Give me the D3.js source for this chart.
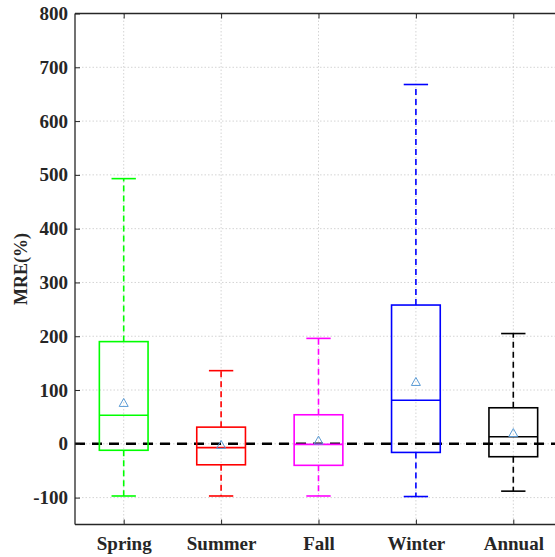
<!DOCTYPE html>
<html><head><meta charset="utf-8">
<script src="https://cdn.jsdelivr.net/npm/d3@7"></script>
<style>body{margin:0;background:#fff;}svg{display:block;}</style>
</head><body>
<svg id="chart" width="555" height="557"></svg>
<script>
const categories = ["Spring","Summer","Fall","Winter","Annual"];
const colors = ["#00ff00","#ff0000","#ff00ff","#0000ff","#000000"];
const whiskerLow = [-97,-97,-97,-98,-88];
const q1 = [-12,-39,-40,-16,-24];
const medians = [53,-7,-1,81,13];
const q3 = [190,31,54,258,67];
const whiskerHigh = [493,136,196,668,205];
const means = [76,-2,6,115,20];
const yTicks = [-100,0,100,200,300,400,500,600,700,800];

const svg = d3.select("#chart");
const x = d3.scaleLinear().domain([0.5,5.5]).range([75,562]);
const y = d3.scaleLinear().domain([-150,800]).range([524.5,13.5]);
const xL = 75, xR = 562, yT = 13.5, yB = 524.5;
const font = "'Liberation Serif','Times New Roman',serif";

// grid
const g = svg.append("g");
g.selectAll(".hg").data(yTicks).join("line")
  .attr("x1",xL).attr("x2",xR).attr("y1",d=>y(d)).attr("y2",d=>y(d))
  .attr("stroke","#d4d4d4").attr("stroke-width",1).attr("stroke-dasharray","1.5,2");
g.selectAll(".vg").data(categories).join("line")
  .attr("x1",(d,i)=>x(i+1)).attr("x2",(d,i)=>x(i+1)).attr("y1",yT).attr("y2",yB)
  .attr("stroke","#d4d4d4").attr("stroke-width",1).attr("stroke-dasharray","1.5,2");

// zero dashed line
svg.append("line").attr("x1",xL).attr("x2",xR).attr("y1",y(0)).attr("y2",y(0))
  .attr("stroke","#000").attr("stroke-width",2.5).attr("stroke-dasharray","10,7");

// boxes
const bw = 0.25, cw = 0.125;
categories.forEach((c,i)=>{
  const cx = x(i+1), col = colors[i];
  const bg = svg.append("g");
  bg.append("line").attr("x1",cx).attr("x2",cx).attr("y1",y(q3[i])).attr("y2",y(whiskerHigh[i]))
    .attr("stroke",col).attr("stroke-width",1.6).attr("stroke-dasharray","6,4");
  bg.append("line").attr("x1",cx).attr("x2",cx).attr("y1",y(q1[i])).attr("y2",y(whiskerLow[i]))
    .attr("stroke",col).attr("stroke-width",1.6).attr("stroke-dasharray","6,4");
  [whiskerHigh[i],whiskerLow[i]].forEach(v=>{
    bg.append("line").attr("x1",x(i+1-cw)).attr("x2",x(i+1+cw)).attr("y1",y(v)).attr("y2",y(v))
      .attr("stroke",col).attr("stroke-width",1.6);
  });
  bg.append("rect").attr("x",x(i+1-bw)).attr("width",x(i+1+bw)-x(i+1-bw))
    .attr("y",y(q3[i])).attr("height",y(q1[i])-y(q3[i]))
    .attr("fill","none").attr("stroke",col).attr("stroke-width",1.6);
  bg.append("line").attr("x1",x(i+1-bw)).attr("x2",x(i+1+bw)).attr("y1",y(medians[i])).attr("y2",y(medians[i]))
    .attr("stroke",col).attr("stroke-width",1.6);
  const my = y(means[i]);
  bg.append("path").attr("d",`M${cx},${my-4.5}L${cx+4.5},${my+3.5}L${cx-4.5},${my+3.5}Z`)
    .attr("fill","none").attr("stroke","#5b9bd5").attr("stroke-width",1);
});

// axes
const axC = "#262626";
svg.append("line").attr("x1",xL).attr("x2",xL).attr("y1",yT).attr("y2",yB).attr("stroke",axC).attr("stroke-width",1.3);
svg.append("line").attr("x1",xL).attr("x2",xR).attr("y1",yB).attr("y2",yB).attr("stroke",axC).attr("stroke-width",1.3);
svg.append("line").attr("x1",xL).attr("x2",xR).attr("y1",yT).attr("y2",yT).attr("stroke",axC).attr("stroke-width",1.3);

const yAxis = d3.axisLeft(y).tickValues(yTicks).tickFormat(d=>String(d)).tickSize(-5).tickPadding(7);
const ya = svg.append("g").attr("transform",`translate(${xL},0)`).call(yAxis);
ya.select(".domain").remove();
ya.selectAll("line").attr("stroke",axC);
ya.selectAll("text").attr("font-family",font).attr("font-weight","bold").attr("font-size",19).attr("fill","#262626");

const xAxis = d3.axisBottom(x).tickValues([1,2,3,4,5]).tickFormat((d,i)=>categories[i]).tickSize(-5).tickPadding(12);
const xa = svg.append("g").attr("transform",`translate(0,${yB})`).call(xAxis);
xa.select(".domain").remove();
xa.selectAll("line").attr("stroke",axC);
xa.selectAll("text").attr("font-family",font).attr("font-weight","bold").attr("font-size",19).attr("fill","#262626");

const xTop = d3.axisTop(x).tickValues([1,2,3,4,5]).tickFormat("").tickSize(-5);
const xt = svg.append("g").attr("transform",`translate(0,${yT})`).call(xTop);
xt.select(".domain").remove();
xt.selectAll("line").attr("stroke",axC);

svg.append("text").attr("transform",`translate(27,269) rotate(-90)`)
  .attr("text-anchor","middle").attr("font-family",font).attr("font-weight","bold")
  .attr("font-size",18).attr("fill","#262626").text("MRE(%)");
</script>
</body></html>
